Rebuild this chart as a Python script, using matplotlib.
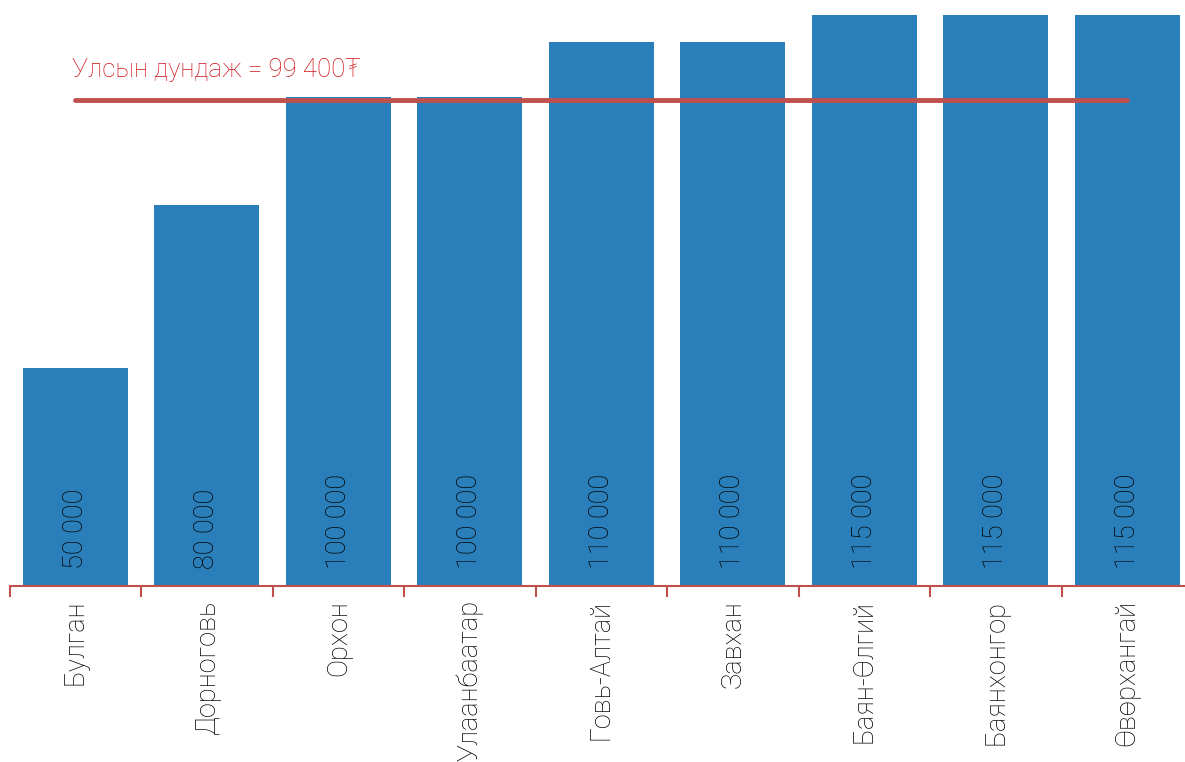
import matplotlib
matplotlib.use("Agg")
import matplotlib.pyplot as plt
import numpy as np

categories = ["Булган", "Дорноговь", "Орхон", "Улаанбаатар", "Говь-Алтай",
              "Завхан", "Баян-Өлгий", "Баянхонгор", "Өвөрхангай"]
values = [50000, 80000, 100000, 100000, 110000, 110000, 115000, 115000, 115000]
value_labels = ["50 000", "80 000", "100 000", "100 000", "110 000",
                "110 000", "115 000", "115 000", "115 000"]
average = 99400
average_label = "Улсын дундаж = 99 400₮"

plt.rcParams['font.family'] = ['Roboto', 'DejaVu Sans']

BAR = "#2a7fba"
RED = "#c0504d"

fig = plt.figure(figsize=(11.85, 7.62), dpi=100)
ax = fig.add_axes([9.5/1185, 176/762, 1183.5/1185, 571/762])
x = np.arange(len(categories))
ax.bar(x, values, width=0.8, color=BAR, zorder=2)
ax.set_xlim(-0.5, len(categories) - 0.5)
ax.set_ylim(10000, 115000)

for i, (v, lab) in enumerate(zip(values, value_labels)):
    ax.annotate(lab, xy=(i, 10000), xytext=(0, 12), textcoords="offset points",
                rotation=90, ha="center", va="bottom", fontsize=19.5,
                fontweight="light", color="black", zorder=4)

ax.plot([0, len(categories) - 1], [average, average], color=RED, lw=3.5,
        solid_capstyle="round", zorder=3)
ax.annotate(average_label, xy=(0, average), xytext=(-2, 13), textcoords="offset points",
            ha="left", va="bottom", fontsize=18.5, color="#d0141a", fontweight="light")

for s in ["top", "left", "right"]:
    ax.spines[s].set_visible(False)
ax.spines["bottom"].set_color(RED)
ax.spines["bottom"].set_linewidth(1.5)
ax.set_yticks([])
ax.set_xticks(x)
ax.set_xticklabels(categories, rotation=90, fontsize=19.5, fontweight="light",
                   va="top", ha="center", color="black")
ax.tick_params(axis="x", which="major", length=0, pad=10)
ax.set_xticks(np.arange(-0.5, len(categories)), minor=True)
ax.tick_params(axis="x", which="minor", length=8, width=1.5, color=RED)

fig.savefig("out.png", dpi=100)
